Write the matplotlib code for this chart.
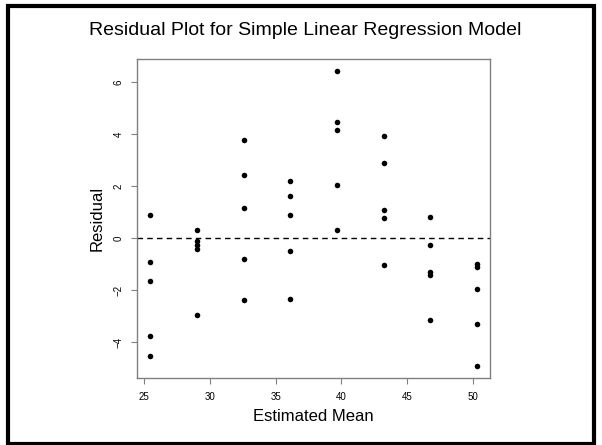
import matplotlib
matplotlib.use("Agg")
import matplotlib.pyplot as plt
from matplotlib.patches import Rectangle

plt.rcParams['font.family'] = ['Liberation Sans', 'DejaVu Sans']

# Estimated means (fitted values) for each group
fitted = [25.45, 29.0, 32.56, 36.11, 39.66, 43.21, 46.77, 50.32]
# Residuals for each fitted value (5 per group)
residuals = [
    [0.90, -0.92, -1.64, -3.76, -4.55],
    [0.31, -0.10, -0.26, -0.41, -2.96],
    [3.75, 2.42, 1.17, -0.81, -2.37],
    [2.19, 1.63, 0.90, -0.51, -2.35],
    [6.42, 4.45, 4.15, 2.04, 0.31],
    [3.93, 2.87, 1.06, 0.77, -1.03],
    [0.81, -0.26, -1.30, -1.41, -3.14],
    [-1.01, -1.10, -1.98, -3.32, -4.94],
]
xticks = [25, 30, 35, 40, 45, 50]
yticks = [-4, -2, 0, 2, 4, 6]

xs, ys = [], []
for f, rs in zip(fitted, residuals):
    for r in rs:
        xs.append(f)
        ys.append(r)

fig = plt.figure(figsize=(6.02, 4.45), dpi=100)
ax = fig.add_axes([0.228, 0.150, 0.586, 0.717])

ax.scatter(xs, ys, s=16, color='black', zorder=3, linewidths=0)
ax.axhline(0, color='black', linestyle=(0, (4, 3)), linewidth=1.0)

xmin, xmax = min(xs), max(xs)
ymin, ymax = min(ys), max(ys)
dx = (xmax - xmin) * 0.04
dy = (ymax - ymin) * 0.04
ax.set_xlim(xmin - dx, xmax + dx)
ax.set_ylim(ymin - dy, ymax + dy)

ax.set_xticks(xticks)
ax.set_yticks(yticks)
ax.set_yticklabels([str(t).replace('-', '\u2212') for t in yticks], rotation=90, va='center')
ax.tick_params(axis='both', labelsize=7, length=4, width=0.8, color='#808080', pad=6)
for s in ax.spines.values():
    s.set_color('#808080')
    s.set_linewidth(1.0)

ax.set_xlabel('Estimated Mean', fontsize=12, labelpad=5)
ax.set_ylabel('Residual', fontsize=12, labelpad=6)
fig.text(0.507, 0.932, 'Residual Plot for Simple Linear Regression Model',
         ha='center', va='center', fontsize=14)

fig.patches.append(Rectangle((0.0133, 0.003), 0.9742, 0.9835, transform=fig.transFigure,
                             fill=False, edgecolor='black', linewidth=3))

fig.savefig('out.png', dpi=100)
